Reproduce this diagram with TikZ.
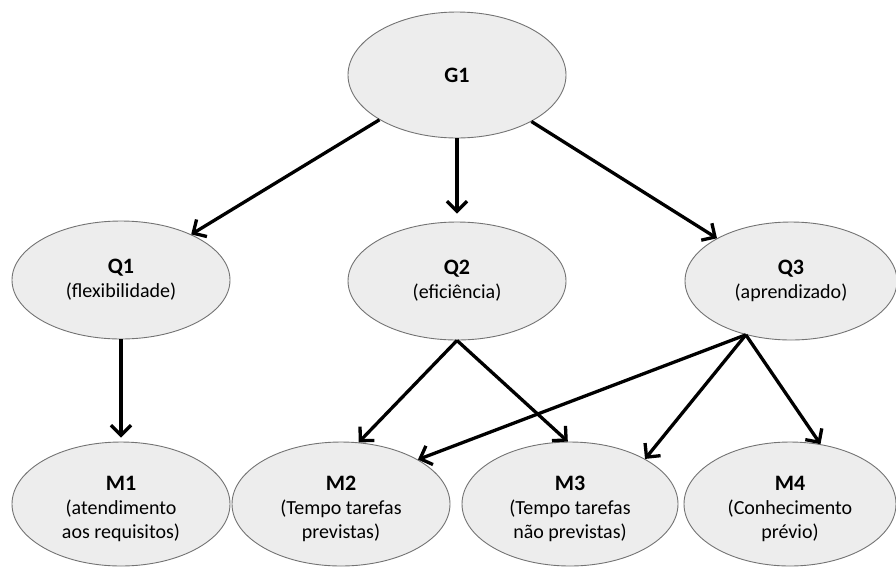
\documentclass[tikz,border=0pt]{standalone}
\usepackage{fontspec}
\setmainfont{Carlito}
\usetikzlibrary{shapes.geometric,arrows.meta}
\newcommand{\ttl}[1]{{\fontsize{22}{25}\selectfont\textbf{#1}}}
\newcommand{\mttl}[1]{{\fontsize{22}{25}\selectfont\rule{0pt}{25pt}\textbf{#1}}}
\begin{document}
\begin{tikzpicture}[x=1pt,y=-1pt,
 ell/.style={ellipse, draw=black!55, line width=0.9pt, fill=black!7, minimum width=218pt, minimum height=#1, inner sep=0pt, align=center, font=\fontsize{20}{24}\selectfont},
 arr/.style={line width=3.3pt, -{Straight Barb[length=10pt,width=20pt,line width=3.3pt]}}]
\useasboundingbox (0,0) rectangle (896,566);
\node[ell=126pt] (G1) at (457,75) {\ttl{G1}};
\node[ell=118pt] (Q1) at (121,280) {\ttl{Q1}\\(flexibilidade)};
\node[ell=118pt] (Q2) at (457,281) {\ttl{Q2}\\(eficiência)};
\node[ell=118pt, minimum width=212pt] (Q3) at (791,281) {\ttl{Q3}\\(aprendizado)};
\node[ell=124pt] (M1) at (121,504) {\mttl{M1}\\(atendimento\\aos requisitos)};
\node[ell=124pt] (M2) at (341,504) {\mttl{M2}\\(Tempo tarefas\\previstas)};
\node[ell=124pt, minimum width=216pt] (M3) at (570,504) {\mttl{M3}\\(Tempo tarefas\\não previstas)};
\node[ell=124pt, minimum width=212pt] (M4) at (790,504) {\mttl{M4}\\(Conhecimento\\prévio)};
\draw[arr] (G1.210) -- (Q1.33);
\draw[arr, shorten >=8pt] (G1.south) -- (Q2.north);
\draw[arr] (G1.-32) -- (Q3.150);
\draw[arr, shorten >=4pt] (Q1.south) -- (M1.north);
\draw[arr] (Q2.south) -- (M2.74);
\draw[arr] (Q2.south) -- (M3.92);
\draw[arr] (Q3.230) -- (M2.30);
\draw[arr] (Q3.230) -- (M3.31);
\draw[arr] (Q3.230) -- (M4.63);
\end{tikzpicture}
\end{document}
